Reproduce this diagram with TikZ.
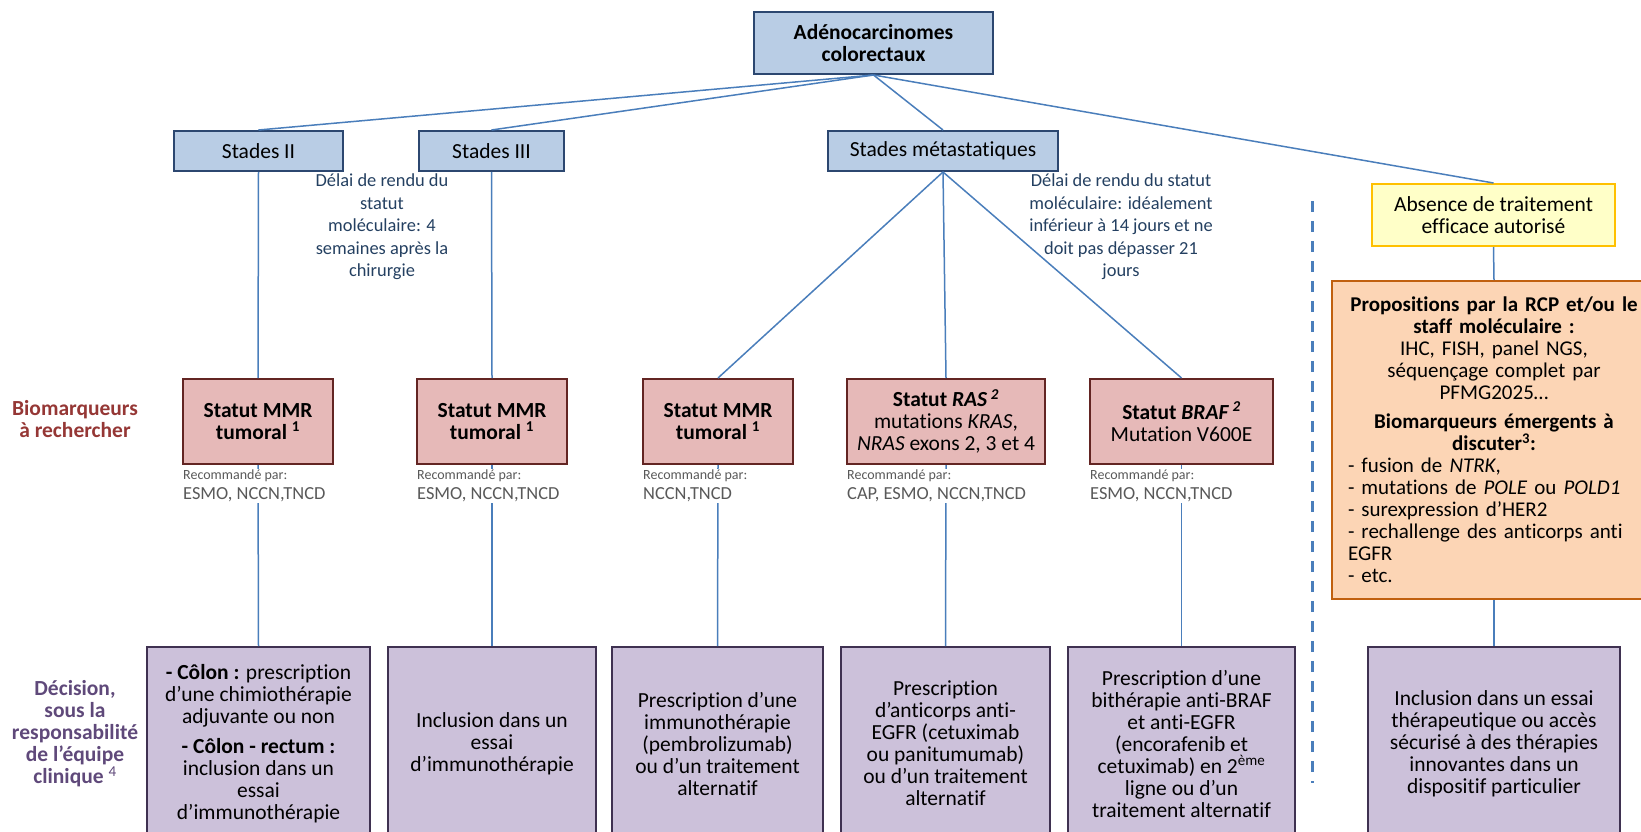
\documentclass[tikz,border=0pt]{standalone}
\usepackage{fontspec}
\setmainfont{Carlito}[Ligatures=NoCommon]
\usetikzlibrary{calc}

\definecolor{lineBlue}{HTML}{4A7EBB}
\definecolor{stageFill}{HTML}{B9CDE5}
\definecolor{stageLine}{HTML}{2C4770}
\definecolor{markerFill}{HTML}{E6B9B8}
\definecolor{markerLine}{HTML}{632523}
\definecolor{decFill}{HTML}{CCC1DA}
\definecolor{decLine}{HTML}{3F3151}
\definecolor{noneFill}{HTML}{FFFFC8}
\definecolor{noneLine}{HTML}{FFC000}
\definecolor{rcpFill}{HTML}{FCD5B5}
\definecolor{rcpLine}{HTML}{C0600F}
\definecolor{noteBlue}{HTML}{244061}
\definecolor{labelRed}{HTML}{953735}
\definecolor{labelPurple}{HTML}{5F497A}
\definecolor{recoGray}{HTML}{595959}

\newcommand{\txtsize}{\fontsize{21.5}{22}\selectfont}
\newcommand{\notesize}{\fontsize{18.4}{22.5}\selectfont}

\begin{document}
\begin{tikzpicture}[x=1pt, y=-1pt,
    link/.style={draw=lineBlue, line width=1.5pt},
    stagebox/.style={draw=stageLine, fill=stageFill, line width=2pt,
                     align=center, inner sep=0pt, font=\txtsize},
    markerbox/.style={draw=markerLine, fill=markerFill, line width=2pt,
                      align=center, inner sep=0pt, minimum height=85pt,
                      font=\txtsize},
    decbox/.style={draw=decLine, fill=decFill, line width=2pt,
                   align=center, inner sep=0pt, minimum height=193pt,
                   font=\txtsize},
    reco/.style={fill=white, text=recoGray, align=left, inner sep=1pt,
                 anchor=north west, font=\fontsize{18.4}{19.5}\selectfont},
    note/.style={text=noteBlue, align=center, font=\notesize}]

  % Page size of the reference
  \useasboundingbox (0,0) rectangle (1641,832);
  \clip (0,0) rectangle (1641,832);

  % Root and stages
  \node (adeno) at (873.5,43) [stagebox, minimum width=239pt,
    minimum height=62pt, font=\txtsize\bfseries] {Adénocarcinomes\\colorectaux};
  \node (stageII) at (258.5,151) [stagebox, minimum width=169pt,
    minimum height=40pt] {Stades II};
  \node (stageIII) at (491.5,151) [stagebox, minimum width=145pt,
    minimum height=40pt] {Stades III};
  \node (stageMeta) at (943,151) [stagebox, minimum width=230pt,
    minimum height=40pt] {Stades métastatiques};
  \node (absence) at (1493.5,215) [draw=noneLine, fill=noneFill,
    line width=2pt, align=center, inner sep=0pt, minimum width=243pt,
    minimum height=62pt, font=\txtsize] {Absence de traitement\\efficace autorisé};

  % Delays for the molecular status
  \node (delayAdj) at (382,227) [note] {Délai de rendu du\\statut\\moléculaire: 4\\semaines après la\\chirurgie};
  \node (delayMeta) at (1121,227) [note] {Délai de rendu du statut\\moléculaire: idéalement\\inférieur à 14 jours et ne\\doit pas dépasser 21\\jours};

  % Row titles on the left
  \node (bioLabel) at (75,419) [text=labelRed, align=center,
    font=\txtsize\bfseries] {Biomarqueurs\\à rechercher};
  \node (decLabel) at (75,734) [text=labelPurple, align=center,
    font=\txtsize\bfseries] {Décision,\\sous la\\responsabilité\\de l’équipe\\clinique \textsuperscript{\mdseries 4}};

  % Biomarkers
  \node (mmrII) at (258,421.5) [markerbox, minimum width=150pt]
    {\textbf{Statut MMR}\\\textbf{tumoral \textsuperscript{1}}};
  \node (mmrIII) at (492,421.5) [markerbox, minimum width=150pt]
    {\textbf{Statut MMR}\\\textbf{tumoral \textsuperscript{1}}};
  \node (mmrMeta) at (718,421.5) [markerbox, minimum width=150pt]
    {\textbf{Statut MMR}\\\textbf{tumoral \textsuperscript{1}}};
  \node (ras) at (946,421.5) [markerbox, minimum width=198pt]
    {\textbf{Statut \textit{RAS}\,\textsuperscript{\textit{2}}}\\mutations \textit{KRAS},\\\textit{NRAS} exons 2, 3 et 4};
  \node (braf) at (1181.5,421.5) [markerbox, minimum width=183pt]
    {\textbf{Statut \textit{BRAF}\,\textsuperscript{\textit{2}}}\\Mutation V600E};

  % Proposals of the RCP
  \node (rcp) at (1494,440) [draw=rcpLine, fill=rcpFill, line width=2pt,
    minimum width=324pt, minimum height=318pt, inner sep=12pt,
    text width=300pt, align=left,
    font=\fontsize{21}{22}\selectfont] {%
    {\centering\bfseries Propositions par la RCP et/ou le\\staff moléculaire :\par}
    {\centering IHC, FISH, panel NGS,\\séquençage complet par\\PFMG2025…\par}
    \vspace{7pt}
    {\centering\bfseries Biomarqueurs émergents à\\discuter\textsuperscript{3}:\par}
    \hspace*{4pt}- fusion de \textit{NTRK},\\
    \hspace*{4pt}- mutations de \textit{POLE} ou \textit{POLD1}\\
    \hspace*{4pt}- surexpression d’HER2\\
    \hspace*{4pt}- rechallenge des anticorps anti\\
    \hspace*{4pt}EGFR\\
    \hspace*{4pt}- etc.};

  % Decisions
  \node (decII) at (258.5,743.5) [decbox, minimum width=223pt]
    {\textbf{- Côlon :} prescription\\d’une chimiothérapie\\adjuvante ou non\\[8pt]\textbf{- Côlon - rectum :}\\inclusion dans un\\essai\\d’immunothérapie};
  \node (decIII) at (492,743.5) [decbox, minimum width=207.5pt]
    {Inclusion dans un\\essai\\d’immunothérapie};
  \node (decMmr) at (717.5,743.5) [decbox, minimum width=211pt]
    {Prescription d’une\\immunothérapie\\(pembrolizumab)\\ou d’un traitement\\alternatif};
  \node (decRas) at (945.5,743.5) [decbox, minimum width=209pt]
    {Prescription\\d’anticorps anti-\\EGFR (cetuximab\\ou panitumumab)\\ou d’un traitement\\alternatif};
  \node (decBraf) at (1181.5,743.5) [decbox, minimum width=227pt]
    {Prescription d’une\\bithérapie anti-BRAF\\et anti-EGFR\\(encorafenib et\\cetuximab) en 2\textsuperscript{ème}\\ligne ou d’un\\traitement alternatif};
  \node (decOther) at (1494,743.5) [decbox, minimum width=251.5pt]
    {Inclusion dans un essai\\thérapeutique ou accès\\sécurisé à des thérapies\\innovantes dans un\\dispositif particulier};

  % Tree connectors
  \foreach \b in {stageII,stageIII,stageMeta,absence}
    \draw[link] (adeno.south) -- (\b.north);
  \draw[link] (stageII.south) -- (mmrII.north);
  \draw[link] (stageIII.south) -- (mmrIII.north);
  \foreach \b in {mmrMeta,ras,braf}
    \draw[link] (stageMeta.south) -- (\b.north);
  \draw[link] (absence.south) -- (rcp.north);
  \foreach \a/\b in {mmrII/decII,mmrIII/decIII,mmrMeta/decMmr,ras/decRas,
                     braf/decBraf,rcp/decOther}
    \draw[link] (\a.south) -- (\b.north);

  % Recommendations, laid over the connectors
  \foreach \b/\l in {mmrII/{ESMO, NCCN,TNCD},mmrIII/{ESMO, NCCN,TNCD},
                     mmrMeta/{NCCN,TNCD},ras/{CAP, ESMO, NCCN,TNCD},
                     braf/{ESMO, NCCN,TNCD}}
    \node (reco\b) at ($(\b.south west)+(0,4)$) [reco]
      {{\fontsize{14}{16}\selectfont Recommandé par:}\\\l};

  % Separator of the last column
  \coordinate (sepTop) at (1312,201);
  \coordinate (sepBottom) at (1312,783);
  \draw[draw=lineBlue, line width=3pt, dash pattern=on 11pt off 9pt]
    (sepTop) -- (sepBottom);
\end{tikzpicture}
\end{document}
